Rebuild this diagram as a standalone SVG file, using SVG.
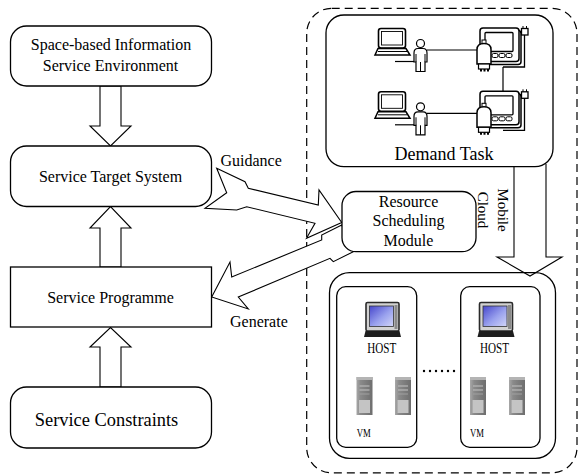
<svg xmlns="http://www.w3.org/2000/svg" width="579" height="475" viewBox="0 0 579 475">
  <style>
    .box{fill:#fff;stroke:#000;stroke-width:1.3}
    .blk{fill:#fff;stroke:#000;stroke-width:1.1;stroke-linejoin:miter}
    .c{text-anchor:middle}
  </style>
  <defs>
    <linearGradient id="scr" x1="0" y1="0" x2="1" y2="1">
      <stop offset="0" stop-color="#4646cc"/>
      <stop offset="0.55" stop-color="#9aa2ee"/>
      <stop offset="1" stop-color="#d2d6f8"/>
    </linearGradient>
    <linearGradient id="tw" x1="0" y1="0" x2="1" y2="0">
      <stop offset="0" stop-color="#a8a8a8"/>
      <stop offset="0.25" stop-color="#8a8a8a"/>
      <stop offset="1" stop-color="#6e6e6e"/>
    </linearGradient>
    <!-- workstation: laptop, operator, terminal -->
    <g id="station">
      <rect x="378.5" y="28.5" width="27" height="19.5" rx="2.5" fill="#fff" stroke="#000" stroke-width="1.6"/>
      <rect x="381.5" y="31.5" width="21" height="13.5" fill="none" stroke="#000" stroke-width="0.9"/>
      <path d="M378,48.5 H406 L410,55 H375 Z" fill="#fff" stroke="#000" stroke-width="1.5"/>
      <line x1="378" y1="51.5" x2="407" y2="51.5" stroke="#000" stroke-width="1"/>
      <line x1="395" y1="61.5" x2="414" y2="61.5" stroke="#000" stroke-width="1.2"/>
      <circle cx="420.5" cy="43.5" r="4" fill="#fff" stroke="#000" stroke-width="1.2"/>
      <path d="M416,71.5 V62 H414 V53 Q414,48.5 418,48.5 H423 Q427,48.5 427,53 V62 H425 V71.5 Z" fill="#fff" stroke="#000" stroke-width="1.2"/>
      <path d="M420.5,62 V71.5 M416,54 V62 M425,54 V62" fill="none" stroke="#000" stroke-width="1"/>
      <line x1="427" y1="50" x2="477" y2="50" stroke="#000" stroke-width="1.2"/>
      <rect x="482" y="30.5" width="39" height="34" rx="3" fill="#fff" stroke="#000" stroke-width="1.5"/>
      <rect x="480" y="28" width="39" height="33.5" rx="3" fill="#fff" stroke="#000" stroke-width="1.5"/>
      <rect x="485" y="32.5" width="28" height="19" rx="1" fill="#fff" stroke="#000" stroke-width="1.3"/>
      <rect x="492" y="53.5" width="6" height="4" rx="1.5" fill="#fff" stroke="#000" stroke-width="1"/>
      <rect x="499" y="53.5" width="6" height="4" rx="1.5" fill="#fff" stroke="#000" stroke-width="1"/>
      <rect x="506" y="53.5" width="6" height="4" rx="1.5" fill="#fff" stroke="#000" stroke-width="1"/>
      <rect x="482" y="40" width="4" height="4" fill="#fff" stroke="#000" stroke-width="1"/>
      <path d="M477,64 V49.5 Q477,43.5 484,43.5 Q491,43.5 491,49.5 V64 Z" fill="#fff" stroke="#000" stroke-width="1.5"/>
      <rect x="478.5" y="64" width="11" height="5" fill="#fff" stroke="#000" stroke-width="1.2"/>
      <path d="M480,69 h2 v2.5 h-2 Z M483.5,69 h2 v2.5 h-2 Z M487,69 h2 v2.5 h-2 Z" fill="#000"/>
      <rect x="521.5" y="28.5" width="6.5" height="6.5" fill="#fff" stroke="#000" stroke-width="1.3"/>
      <path d="M523,26 V28.5 M526.5,26 V28.5" stroke="#000" stroke-width="1"/>
      <polyline points="524.5,35 524.5,67 503,67" fill="none" stroke="#000" stroke-width="1.3"/>
    </g>
    <!-- host computer -->
    <g id="pc">
      <rect x="1" y="0.5" width="33" height="28.5" rx="1.5" fill="#d2d2d2" stroke="#2a2a2a" stroke-width="1.6"/>
      <rect x="29.5" y="3" width="3" height="24" fill="#8a8a8a"/>
      <rect x="4.5" y="4" width="24" height="20.5" fill="url(#scr)" stroke="#333" stroke-width="0.8"/>
      <path d="M0.5,29 H34.5 L36,35 H-1 Z" fill="#1e1e1e"/>
    </g>
    <!-- virtual machine tower -->
    <g id="vm">
      <rect width="16" height="38" fill="url(#tw)"/>
      <rect width="16" height="3" fill="#b4b4b4"/>
      <line x1="3" y1="9" x2="13" y2="9" stroke="#b8b8b8" stroke-width="1.2"/>
      <line x1="3" y1="13" x2="13" y2="13" stroke="#b8b8b8" stroke-width="1.2"/>
      <line x1="3" y1="17" x2="13" y2="17" stroke="#a0a0a0" stroke-width="1"/>
      <rect x="2.5" y="23" width="11" height="13" fill="#c4c4c4"/>
    </g>
  </defs>

  <rect width="579" height="475" fill="#fff"/>

  <!-- mobile cloud boundary -->
  <rect id="mobile-cloud" x="306.7" y="8.3" width="270.3" height="464.5" rx="25" fill="none" stroke="#000" stroke-width="1.2" stroke-dasharray="8 5"/>

  <g font-family="Liberation Serif, Times New Roman, DejaVu Serif, serif" fill="#000">
  <g id="connectors">
    <!-- hollow vertical arrows on the left -->
    <polygon class="blk" points="100,86 121,86 121,126 131,126 110.5,146 90,126 100,126"/>
    <polygon class="blk" points="100,267 121,267 121,228 131,228 110.5,206.5 90,228 100,228"/>
    <polygon class="blk" points="100,387 121,387 121,347 131,347 110.5,327.5 90,347 100,347"/>
    <!-- Generate -->
    <polygon class="blk" points="211.7,297 230,262 231.7,277 321.7,240 321.7,235 341.7,225 353.3,251.7 333.3,261.7 330,258.3 238.3,297 248.3,309"/>
    <!-- Guidance -->
    <polygon class="blk" points="216.7,168.3 245,181.7 248.3,188.3 318.3,205 319,190 341.7,222.5 306.5,238.3 315,223.3 246.7,206.7 236.7,210 205,208.3 226.7,192.7"/>
    <!-- demand task to hosts -->
    <path class="blk" d="M514,166.5 V257 H497 L530,276 L562,257 H546 V164"/>
    <text x="220.5" y="166" font-size="16">Guidance</text>
    <text x="230" y="327.3" font-size="16">Generate</text>
  </g>

  <g id="space-env">
    <rect class="box" x="10.5" y="26" width="201" height="60" rx="16"/>
    <text class="c" x="111" y="50" font-size="16">Space-based Information</text>
    <text class="c" x="110.5" y="71" font-size="16">Service Environment</text>
  </g>

  <g id="target-system">
    <rect class="box" x="10.5" y="146" width="201" height="60.5" rx="16"/>
    <text class="c" x="110.5" y="182" font-size="16">Service Target System</text>
  </g>

  <g id="programme">
    <rect class="box" x="10.5" y="267" width="201" height="60"/>
    <text class="c" x="110.5" y="302.7" font-size="16">Service Programme</text>
  </g>

  <g id="constraints">
    <rect class="box" x="10.5" y="387" width="201" height="61" rx="16"/>
    <text class="c" x="106.5" y="425.7" font-size="18.4">Service Constraints</text>
  </g>

  <g id="demand-task">
    <rect class="box" x="326" y="15" width="227" height="151.7" rx="18"/>
    <use href="#station"/>
    <line x1="503" y1="67" x2="503" y2="91" stroke="#000" stroke-width="1.2"/>
    <use href="#station" transform="translate(0,63.3)"/>
    <text class="c" x="444" y="159.5" font-size="18">Demand Task</text>
  </g>

  <g id="scheduler">
    <rect class="box" x="342" y="191.5" width="134" height="60.2" rx="14"/>
    <text class="c" x="408.5" y="206.5" font-size="16">Resource</text>
    <text class="c" x="408.5" y="226" font-size="16">Scheduling</text>
    <text class="c" x="408.5" y="245.5" font-size="16">Module</text>
  </g>

  <g id="cloud-label">
    <text class="c" font-size="15" transform="translate(498,210) rotate(90)">Mobile</text>
    <text class="c" font-size="15" transform="translate(478,210) rotate(90)">Cloud</text>
  </g>

  <g id="hosts">
    <rect x="329.5" y="272.7" width="226" height="185.6" rx="20" fill="none" stroke="#000" stroke-width="1.3"/>
    <g id="host-1">
      <rect class="box" x="336.7" y="286.7" width="80" height="160.6" rx="9"/>
      <use href="#pc" transform="translate(365,302)"/>
      <text class="c" x="381.7" y="353" font-size="14" textLength="29" lengthAdjust="spacingAndGlyphs">HOST</text>
      <use href="#vm" transform="translate(356.5,377)"/>
      <use href="#vm" transform="translate(395,377)"/>
      <text x="356.7" y="436.7" font-size="13" textLength="14" lengthAdjust="spacingAndGlyphs">VM</text>
    </g>
    <g id="host-n">
      <rect class="box" x="460.7" y="286.7" width="79.3" height="160.6" rx="9"/>
      <use href="#pc" transform="translate(478.5,302)"/>
      <text class="c" x="494.5" y="353" font-size="14" textLength="29" lengthAdjust="spacingAndGlyphs">HOST</text>
      <use href="#vm" transform="translate(470,377)"/>
      <use href="#vm" transform="translate(509,377)"/>
      <text x="470" y="436.7" font-size="13" textLength="14" lengthAdjust="spacingAndGlyphs">VM</text>
    </g>
    <g id="ellipsis" fill="#000">
      <circle cx="424" cy="371" r="1.2"/>
      <circle cx="430" cy="371" r="1.2"/>
      <circle cx="436" cy="371" r="1.2"/>
      <circle cx="442" cy="371" r="1.2"/>
      <circle cx="448" cy="371" r="1.2"/>
      <circle cx="454" cy="371" r="1.2"/>
    </g>
  </g>
  </g>
</svg>
